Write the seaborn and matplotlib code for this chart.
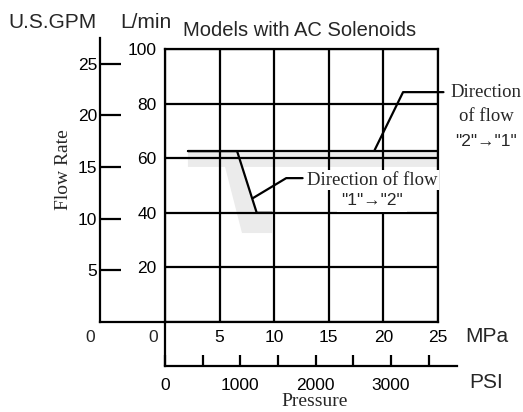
import numpy as np
import pandas as pd
import matplotlib
matplotlib.use("Agg")
import matplotlib.pyplot as plt
import seaborn as sns

# axis ticks / labels
mpa_ticks = [0, 5, 10, 15, 20, 25]
mpa_labels = ["", "5", "10", "15", "20", "25"]
lpm_ticks = [0, 20, 40, 60, 80, 100]
lpm_labels = ["", "20", "40", "60", "80", "100"]
gpm_ticks = [5, 10, 15, 20, 25]
psi_ticks = [0, 500, 1000, 1500, 2000, 2500, 3000, 3500]
psi_labels = ["0", "", "1000", "", "2000", "", "3000", ""]

# curves (MPa, L/min)
flow21_mpa = [2.1, 25.0]
flow21_lpm = [62.6, 62.6]
flow12_mpa = [2.1, 6.6, 8.4, 9.8]
flow12_lpm = [62.6, 62.6, 40.0, 40.0]

# grey shadow band
shade_mpa = [2.1, 25.0, 25.0, 7.05, 8.4, 9.8, 9.8, 7.05, 5.5, 2.1]
shade_lpm = [62.6, 62.6, 56.8, 56.8, 40.0, 40.0, 32.6, 32.6, 56.8, 56.8]

# leader lines for the notes
lead21_mpa = [19.2, 21.8, 25.5]
lead21_lpm = [63.0, 84.2, 84.2]
lead12_mpa = [8.06, 11.1, 12.6]
lead12_lpm = [45.4, 52.7, 52.7]

LPM_PER_GPM = 3.785
MPA_TO_PSI = 145.038

sns.set_theme(style="white")
plt.rcParams["font.family"] = ["Liberation Sans", "DejaVu Sans"]
SERIF = ["Liberation Serif", "DejaVu Serif"]
LW = 1.6

W, H = 523, 412
fig = plt.figure(figsize=(W / 100, H / 100), dpi=100)

# main plot area: x 165..438 px, y 49..322 px
ax = fig.add_axes([165 / W, 1 - 322 / H, 273 / W, 273 / H])
ax.fill(shade_mpa, shade_lpm, color="#ebebeb", lw=0, zorder=0.1)
sns.lineplot(x=flow21_mpa, y=flow21_lpm, sort=False, estimator=None,
             color="black", linewidth=LW, ax=ax)
sns.lineplot(x=flow12_mpa, y=flow12_lpm, sort=False, estimator=None,
             color="black", linewidth=LW, ax=ax)
sns.lineplot(x=lead21_mpa, y=lead21_lpm, sort=False, estimator=None,
             color="black", linewidth=LW, ax=ax, clip_on=False)
sns.lineplot(x=lead12_mpa, y=lead12_lpm, sort=False, estimator=None,
             color="black", linewidth=LW, ax=ax, clip_on=False)
ax.set_xlim(0, 25)
ax.set_ylim(0, 100)
ax.set_xticks(mpa_ticks)
ax.set_xticklabels(mpa_labels)
ax.set_yticks(lpm_ticks)
ax.set_yticklabels(lpm_labels)
ax.tick_params(length=0, labelsize=12.5, colors="black")
ax.tick_params(axis="x", pad=6)
ax.tick_params(axis="y", pad=6)
ax.grid(True, color="black", linewidth=LW)
ax.set_axisbelow(True)
for s in ax.spines.values():
    s.set_color("black")
    s.set_linewidth(LW)
ax.set_facecolor("white")

# notes
ax.text(29.4, 83.9, "Direction", family=SERIF, fontsize=13.5,
        ha="center", va="center", clip_on=False)
ax.text(29.4, 75.1, "of flow", family=SERIF, fontsize=13.5,
        ha="center", va="center", clip_on=False)
ax.text(29.4, 66.3, '"2"\u2192"1"', fontsize=12.5, ha="center", va="center",
        clip_on=False)
ax.text(13.0, 52.0, "Direction of flow", family=SERIF, fontsize=13.5,
        ha="left", va="center", zorder=5,
        bbox=dict(boxstyle="square,pad=0.1", fc="white", ec="none"))
ax.text(18.95, 44.5, '"1"\u2192"2"', fontsize=12.5, ha="center", va="center",
        zorder=5, bbox=dict(boxstyle="square,pad=0.25", fc="white", ec="none"))

# U.S.GPM axis at x = 100 px
axg = fig.add_axes([100 / W, 1 - 322 / H, 65 / W, 284 / H])
axg.set_facecolor("none")
axg.set_ylim(0, 104 / LPM_PER_GPM)
axg.set_xlim(0, 1)
axg.set_xticks([])
axg.set_yticks(gpm_ticks)
axg.tick_params(axis="y", direction="in", length=15, width=LW, left=True,
                labelsize=12.5, pad=2, colors="black")
for k in ["top", "right"]:
    axg.spines[k].set_visible(False)
for k in ["left", "bottom"]:
    axg.spines[k].set_color("black")
    axg.spines[k].set_linewidth(LW)

# PSI axis below
psi_max = 292 * 25 / 273 * MPA_TO_PSI
axp = fig.add_axes([165 / W, 1 - 366 / H, 292 / W, 44 / H])
axp.set_facecolor("none")
axp.set_xlim(0, psi_max)
axp.set_yticks([])
axp.set_xticks(psi_ticks)
axp.set_xticklabels(psi_labels)
axp.tick_params(axis="x", direction="in", length=8, width=LW, bottom=True,
                labelsize=12.5, pad=8.5, colors="black")
for k in ["top", "right"]:
    axp.spines[k].set_visible(False)
for k in ["left", "bottom"]:
    axp.spines[k].set_color("black")
    axp.spines[k].set_linewidth(LW)

# free texts
def ftxt(x, y, s, **kw):
    fig.text(x / W, 1 - y / H, s, ha="center", va="center", **kw)

ftxt(52, 22, "U.S.GPM", fontsize=15)
ftxt(146, 22, "L/min", fontsize=15)
ftxt(300, 31, "Models with AC Solenoids", fontsize=14.5)
ftxt(90, 337, "0", fontsize=12.5)
ftxt(153, 337, "0", fontsize=12.5)
ftxt(487, 337, "MPa", fontsize=15)
ftxt(486, 382, "PSI", fontsize=15)
ftxt(315, 402, "Pressure", fontsize=14, family=SERIF)
ftxt(63, 170, "Flow Rate", fontsize=14, family=SERIF, rotation=90)

fig.savefig("out.png", dpi=100)
